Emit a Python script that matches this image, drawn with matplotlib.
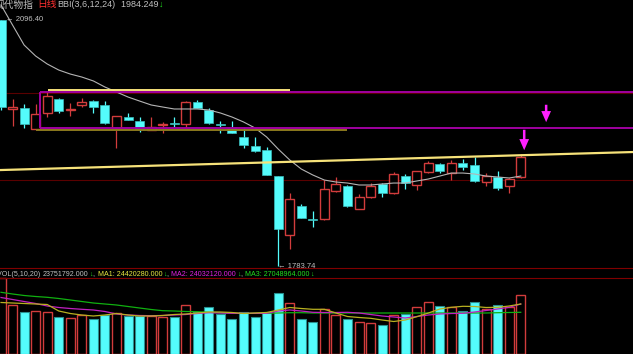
import matplotlib
matplotlib.use('Agg')
import matplotlib.pyplot as plt
from matplotlib.lines import Line2D

# daily candles, oldest first
opens = [2096.4, 1982.9, 1984.6, 1957.9, 1978.2, 1996.4, 1982.3, 1988.0, 1993.8, 1988.4,
         1959.5, 1973.1, 1968.4, 1957.0, 1962.9, 1965.5, 1963.8, 1991.8, 1982.0, 1963.6,
         1960.8, 1948.1, 1936.6, 1931.2, 1898.1, 1823.1, 1860.4, 1843.6, 1843.5, 1879.4,
         1885.8, 1856.6, 1871.1, 1887.6, 1876.1, 1898.1, 1886.7, 1903.2, 1913.4, 1901.6,
         1915.0, 1911.7, 1890.9, 1897.2, 1885.4, 1896.5]
highs = [2096.4, 1996.0, 1989.6, 1989.6, 2004.9, 1997.0, 1990.9, 1997.3, 1994.5, 1993.4,
         1974.8, 1978.2, 1973.1, 1972.7, 1967.1, 1973.1, 1993.8, 1994.7, 1984.2, 1968.4,
         1968.4, 1960.4, 1947.3, 1935.4, 1898.1, 1876.1, 1862.5, 1853.6, 1893.0, 1896.5,
         1886.7, 1875.2, 1888.9, 1888.9, 1902.8, 1900.7, 1904.5, 1917.6, 1915.0, 1918.5,
         1919.4, 1921.9, 1901.6, 1904.9, 1895.6, 1926.1]
lows = [1982.0, 1962.1, 1959.1, 1957.9, 1973.1, 1978.2, 1974.4, 1986.2, 1978.6, 1964.0,
        1933.7, 1968.9, 1954.4, 1957.0, 1953.2, 1960.0, 1960.0, 1984.6, 1963.8, 1952.4,
        1952.4, 1933.3, 1929.0, 1899.4, 1783.74, 1805.0, 1845.1, 1832.9, 1842.2, 1878.2,
        1859.1, 1856.6, 1870.5, 1871.8, 1874.9, 1881.2, 1880.3, 1902.3, 1901.6, 1893.0,
        1905.7, 1890.5, 1885.4, 1880.3, 1876.1, 1895.6]
closes = [1985.8, 1986.2, 1964.2, 1976.9, 1999.8, 1981.1, 1983.5, 1992.2, 1986.2, 1965.1,
          1974.8, 1968.9, 1957.5, 1960.0, 1963.5, 1964.9, 1992.2, 1984.6, 1965.1, 1963.0,
          1952.4, 1937.5, 1930.3, 1899.4, 1830.4, 1868.5, 1845.1, 1842.6, 1881.2, 1887.6,
          1860.4, 1871.1, 1885.8, 1876.9, 1900.7, 1888.8, 1904.5, 1915.0, 1904.5, 1914.3,
          1909.2, 1891.8, 1898.1, 1882.5, 1894.3, 1921.9]
bbi = [2115.5, 2090.0, 2064.6, 2050.6, 2040.5, 2032.8, 2027.7, 2023.9, 2018.9, 2011.2,
       2004.9, 1998.5, 1993.4, 1988.4, 1985.8, 1983.3, 1983.3, 1983.3, 1982.0, 1978.2,
       1973.1, 1966.8, 1959.1, 1947.7, 1932.4, 1918.5, 1907.0, 1899.4, 1893.0, 1890.5,
       1889.2, 1886.7, 1886.7, 1888.0, 1889.2, 1889.2, 1891.8, 1894.3, 1898.1, 1901.9,
       1901.9, 1900.7, 1898.1, 1896.9, 1895.6, 1898.1]

# volume in millions
volumes = [38.0, 24.5, 21.2, 21.5, 20.9, 18.4, 17.9, 19.5, 17.5, 19.5,
           20.4, 19.2, 19.2, 19.0, 18.7, 18.7, 24.5, 21.2, 23.4, 19.9,
           17.5, 20.9, 18.4, 20.9, 30.4, 25.4, 17.5, 15.9, 22.4, 19.5,
           17.5, 15.9, 15.4, 14.5, 19.5, 20.0, 23.4, 26.0, 24.0, 23.7,
           21.5, 25.9, 22.5, 24.7, 23.4, 29.4]
vol_ma1 = [25.75, 25.5, 25.25, 25.0, 24.75, 21.5, 20.25, 19.5, 19.0, 19.5,
           20.25, 19.5, 19.0, 19.0, 19.25, 19.75, 20.0, 20.5, 21.0, 21.0,
           20.75, 20.25, 20.5, 20.75, 22.0, 23.25, 22.75, 22.35, 22.35, 20.5,
           18.75, 18.25, 17.85, 17.0, 16.25, 17.0, 18.65, 20.5, 22.5, 23.35,
           23.85, 23.75, 23.25, 23.35, 24.0, 25.0]
vol_ma2 = [28.25, 27.25, 26.25, 25.25, 24.0, 23.25, 22.75, 22.35, 22.0, 21.25,
           20.0, 19.5, 19.25, 19.15, 19.25, 19.5, 19.75, 20.25, 20.65, 20.5,
           20.35, 20.35, 20.35, 20.35, 21.5, 22.0, 21.5, 20.85, 20.75, 20.75,
           20.85, 20.5, 19.75, 19.0, 18.5, 18.0, 18.75, 19.5, 20.0, 20.25,
           20.35, 21.0, 21.75, 22.5, 23.35, 25.0]
vol_ma3 = [30.85, 30.0, 29.25, 28.75, 28.35, 27.75, 27.0, 26.25, 25.5, 25.0,
           24.5, 23.75, 23.0, 22.25, 21.65, 21.5, 21.25, 21.15, 20.85, 20.65,
           20.35, 20.35, 20.35, 20.35, 20.5, 20.65, 20.65, 20.5, 20.5, 20.5,
           20.5, 20.5, 20.5, 20.5, 20.5, 20.5, 20.5, 20.5, 20.5, 20.5,
           20.5, 20.5, 20.5, 20.65, 20.75, 20.85]
vol_up = [True] + [c >= o for o, c in zip(opens[1:], closes[1:])]

# hand drawn lines on the chart: (x0, y0, x1, y1) in bar index / price
trend_line = (-0.09, 1905.7, 54.72, 1928.6)
box_top = (3.38, 2004.9, 54.72, 2004.9)
box_bottom = (3.38, 1959.1, 54.72, 1959.1)
box_left = (3.38, 2004.9, 3.38, 1959.1)
top_mark = (4.1, 2007.4, 25.0, 2007.4)
base_mark = (3.03, 1956.6, 30.0, 1956.6)
arrows = [(47.2, 1992.2, 1963.0), (45.3, 1960.4, 1927.4)]

W, H = 633, 354
BG = 'black'
CYAN = '#54fcfc'
RED = '#d23c3c'
GRID = '#5a0000'
GREYTXT = '#c0c0c0'
GREEN = '#20e020'
SMALL = ['Liberation Sans', 'DejaVu Sans']
CJK = ['Noto Sans CJK SC', 'DejaVu Sans']
FS = 5.5

fig = plt.figure(figsize=(W / 100, H / 100), dpi=100, facecolor=BG)
xlim = (-0.0866, 54.72)
ax = fig.add_axes([0, (H - 267) / H, 1, 267 / H], facecolor=BG)
axv = fig.add_axes([0, 0, 1, (H - 277) / H], facecolor=BG)
for a in (ax, axv):
    a.set_xlim(*xlim)
    a.set_xticks([])
    a.set_yticks([])
    for s in a.spines.values():
        s.set_visible(False)
ax.set_ylim(1782.5, 2121.8)
axv.set_ylim(0, 38.5)

# grid lines of the price panel
for lvl in (2003.6, 1893.0):
    ax.axhline(lvl, color=GRID, lw=0.8, zorder=0)

bw = 0.78
n = len(opens)
for i in range(n):
    o, h, l, c = opens[i], highs[i], lows[i], closes[i]
    lo_b, hi_b = min(o, c), max(o, c)
    if hi_b - lo_b < 1.0:
        mid = (hi_b + lo_b) / 2
        lo_b, hi_b = mid - 0.5, mid + 0.5
    if c >= o:
        ax.vlines(i, hi_b, h, color=RED, lw=0.9, zorder=2)
        ax.vlines(i, l, lo_b, color=RED, lw=0.9, zorder=2)
        ax.bar(i, hi_b - lo_b, bw, lo_b, facecolor=BG, edgecolor=RED, lw=1.0, zorder=3)
    else:
        ax.vlines(i, l, h, color=CYAN, lw=0.9, zorder=2)
        ax.bar(i, hi_b - lo_b, bw, lo_b, facecolor=CYAN, edgecolor='#3bbcbc', lw=0.5, zorder=3)

ax.plot(range(n), bbi, color='#b4b4b4', lw=0.8, zorder=4)

# drawn lines
def seg(a, s, color, lw):
    a.plot([s[0], s[2]], [s[1], s[3]], color=color, lw=lw, solid_capstyle='butt', zorder=5)

seg(ax, trend_line, '#f6e27a', 1.6)
seg(ax, top_mark, '#f6e27a', 1.4)
seg(ax, base_mark, '#8c7a1e', 1.4)
seg(ax, box_top, '#a000a0', 1.4)
seg(ax, box_bottom, '#a000a0', 1.4)
seg(ax, box_left, '#a000a0', 1.4)
for xa, y0, y1 in arrows:
    ax.annotate('', xy=(xa, y1), xytext=(xa, y0),
                arrowprops=dict(arrowstyle='simple,head_length=0.8,head_width=0.7,tail_width=0.18',
                                color='#ff20ff', lw=0), zorder=6)

ax.text(0.45, highs[0], '\u2190 2096.40', color=GREYTXT, fontsize=FS, family=SMALL,
        va='center', ha='left', zorder=6)
ax.text(23.95, lows[24], '\u2190 1783.74', color=GREYTXT, fontsize=FS, family=SMALL,
        va='center', ha='left', zorder=6)

# volume panel
for i in range(n):
    if vol_up[i]:
        axv.bar(i, volumes[i], bw, facecolor=BG, edgecolor=RED, lw=1.0, zorder=2)
    else:
        axv.bar(i, volumes[i], bw, facecolor=CYAN, edgecolor='#2a9090', lw=0.8, zorder=2)
axv.plot(range(n), vol_ma3, color='#10b010', lw=0.9, zorder=3)
axv.plot(range(n), vol_ma2, color='#c020c0', lw=0.9, zorder=3)
axv.plot(range(n), vol_ma1, color='#b8b020', lw=0.9, zorder=3)

# panel separators
for yy in (267.5, 277.5):
    fig.add_artist(Line2D([0, 1], [1 - yy / H] * 2, color='#800000', lw=0.8))

def px(x, y):
    return x / W, 1 - y / H

fig.text(*px(-5, 4.5), '现代物指', color=GREYTXT, fontsize=7, family=CJK, va='center')
fig.text(*px(37, 4.5), '日线', color='#ff3030', fontsize=7, family=CJK, va='center')

title_bits = [('BBI(3,6,12,24)', GREYTXT), ('  1984.249', GREYTXT), ('\u2193', GREEN)]
vol_bits = [('VOL(5,10,20) ', GREYTXT), ('23751792.000', GREYTXT), ('\u2193', GREEN),
            (', ', GREYTXT), ('MA1: 24420280.000', '#e8e840'), ('\u2193', GREEN),
            (', ', GREYTXT), ('MA2: 24032120.000', '#e020e0'), ('\u2193', GREEN),
            (', ', GREYTXT), ('MA3: 27048964.000', GREEN), ('\u2193', GREEN)]

def place_run(x0, y, bits, fs):
    # lay the coloured pieces one after another
    renderer = fig.canvas.get_renderer()
    x = x0
    for t, col in bits:
        txt = fig.text(*px(x, y), t, color=col, fontsize=fs, family=SMALL, va='center')
        x += txt.get_window_extent(renderer).width + 0.5

place_run(57, 4.5, title_bits, 6.5)
place_run(-3, 274.5, vol_bits, 5.1)

fig.savefig('out.png', dpi=100, facecolor=BG)
